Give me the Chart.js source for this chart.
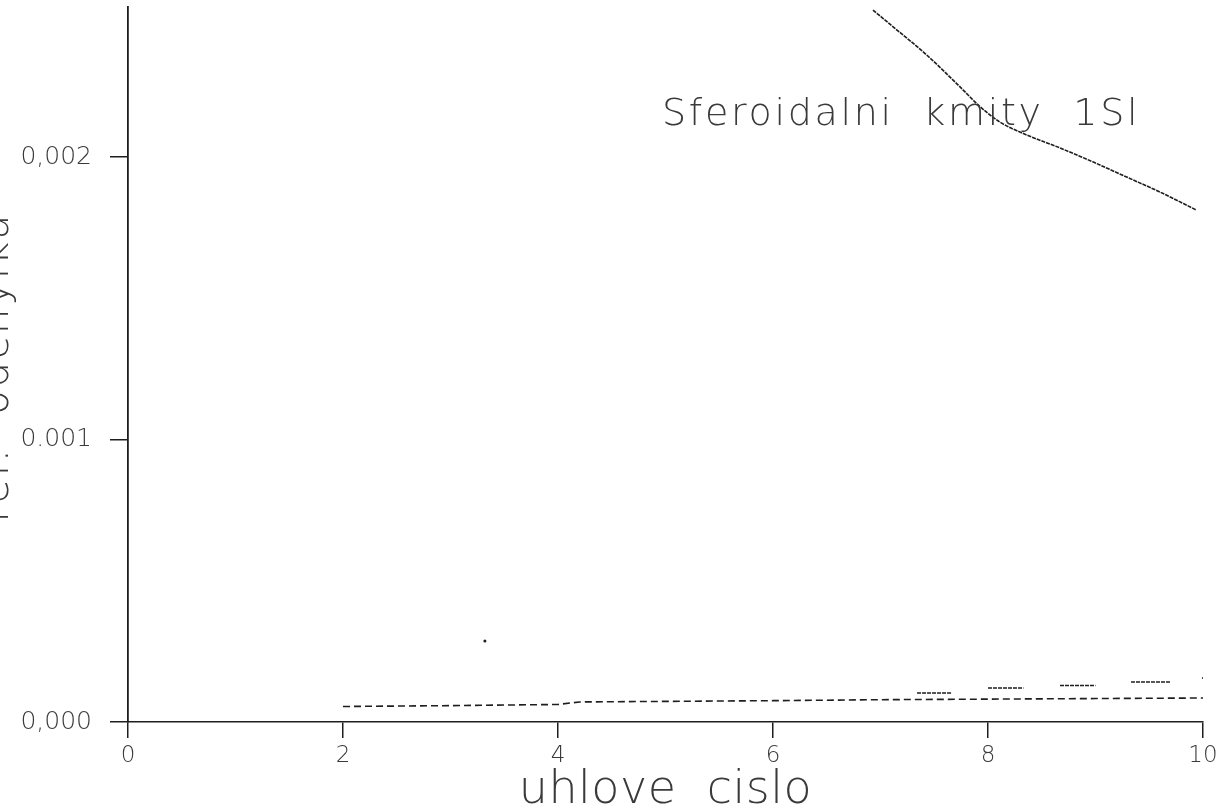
<!DOCTYPE html>
<html>
<head>
<meta charset="utf-8">
<title>Sferoidalni kmity 1Sl</title>
<script src="https://cdn.jsdelivr.net/npm/chart.js@4.4.1/dist/chart.umd.min.js"></script>
<style>
  html, body { margin: 0; padding: 0; background: #fff; }
  #wrap { width: 1227px; height: 811px; }
</style>
</head>
<body>
<div id="wrap"><canvas id="chart" width="1227" height="811"></canvas></div>
<script>
// axis ticks
const xTickValues = [0, 2, 4, 6, 8, 10];
const yTickValues = [0, 0.001, 0.002];
const yTickLabels = ['0,000', '0.001', '0,002'];

// texts
const plotTitle = 'Sferoidalni  kmity  1Sl';
const xTitle = 'uhlove  cislo';
const yTitle = 'rel.  odchylka';

// upper curve
const curveL   = [6.93, 7.12, 7.43, 7.74, 7.93, 8.11, 8.36, 8.67, 8.98, 9.29, 9.60, 9.94];
const curveVal = [0.002520, 0.002460, 0.002361, 0.002248, 0.002177, 0.002124,
                  0.002078, 0.002032, 0.001982, 0.001929, 0.001876, 0.001812];

// lower dashed line
const lowerL   = [2, 3, 4, 4.2, 5, 6, 7, 8, 9, 10];
const lowerVal = [0.0000549, 0.000058, 0.000062, 0.000071, 0.000073, 0.0000755, 0.000079, 0.000081, 0.000083, 0.000085];

// short level steps above the lower line
const stepFrom = [7.34, 8.0, 8.67, 9.33, 9.99];
const stepTo   = [7.66, 8.33, 9.0, 9.7, 10.02];
const stepVal  = [0.0001027, 0.0001204, 0.0001292, 0.0001416, 0.0001558];

// single stray point
const strayL   = [3.32];
const strayVal = [0.000287];

const toPoints = (xs, ys) => xs.map((x, i) => ({ x: x, y: ys[i] }));

// steps become separate pieces of one dataset, broken by nulls
const stepPoints = [];
stepFrom.forEach((x0, i) => {
  stepPoints.push({ x: x0, y: stepVal[i] });
  stepPoints.push({ x: stepTo[i], y: stepVal[i] });
  stepPoints.push({ x: stepTo[i] + 0.01, y: null });
});

const ink = '#1e1e1e';
const textInk = '#3a3a3a';

// free texts: title inside the plot and both axis titles
const textLayer = {
  id: 'textLayer',
  afterDraw(chart) {
    const ctx = chart.ctx;
    const area = chart.chartArea;
    ctx.save();
    ctx.fillStyle = textInk;
    ctx.textBaseline = 'alphabetic';

    ctx.font = '200 38px "DejaVu Sans"';
    ctx.textAlign = 'left';
    ctx.letterSpacing = '2.7px';
    ctx.fillText(plotTitle, 662, 125);

    ctx.font = '200 46px "DejaVu Sans"';
    ctx.textAlign = 'center';
    ctx.letterSpacing = '0.5px';
    ctx.fillText(xTitle, (area.left + area.right) / 2, 803);

    ctx.translate(8, 367);
    ctx.rotate(-Math.PI / 2);
    ctx.font = '200 40px "DejaVu Sans"';
    ctx.letterSpacing = '3px';
    ctx.fillText(yTitle, 0, 0);
    ctx.restore();
  }
};

new Chart(document.getElementById('chart'), {
  type: 'scatter',
  data: {
    datasets: [
      {
        data: toPoints(curveL, curveVal),
        showLine: true,
        borderColor: ink,
        borderWidth: 1.6,
        borderDash: [4, 1],
        pointRadius: 0,
        cubicInterpolationMode: 'monotone'
      },
      {
        data: toPoints(lowerL, lowerVal),
        showLine: true,
        borderColor: ink,
        borderWidth: 1.6,
        borderDash: [7, 4],
        pointRadius: 0
      },
      {
        data: stepPoints,
        showLine: true,
        spanGaps: false,
        borderColor: ink,
        borderWidth: 1.6,
        borderDash: [4, 1],
        pointRadius: 0
      },
      {
        data: toPoints(strayL, strayVal),
        showLine: false,
        pointRadius: 1.5,
        pointBackgroundColor: ink,
        pointBorderWidth: 0
      }
    ]
  },
  options: {
    responsive: false,
    devicePixelRatio: 1,
    animation: false,
    layout: { padding: { top: 7, right: 24, left: 0, bottom: 0 } },
    plugins: {
      legend: { display: false },
      tooltip: { enabled: false }
    },
    scales: {
      x: {
        type: 'linear',
        min: 0,
        max: 10,
        afterBuildTicks: scale => { scale.ticks = xTickValues.map(v => ({ value: v })); },
        afterFit: scale => {
          scale.height = 89;
          scale.paddingLeft = 0;
          scale.paddingRight = 0;
        },
        grid: { drawOnChartArea: false, drawTicks: true, tickLength: 16, color: ink, lineWidth: 1.5 },
        border: { display: true, color: ink, width: 1.5, dash: [6, 1] },
        ticks: {
          color: textInk,
          padding: 4,
          maxRotation: 0,
          font: { family: 'DejaVu Sans', size: 23, weight: 200 },
          callback: v => String(v)
        }
      },
      y: {
        type: 'linear',
        min: 0,
        max: 0.002531,
        afterBuildTicks: scale => { scale.ticks = yTickValues.map(v => ({ value: v })); },
        afterFit: scale => {
          scale.width = 128;
          scale.paddingTop = 0;
          scale.paddingBottom = 0;
        },
        grid: { drawOnChartArea: false, drawTicks: true, tickLength: 18, color: ink, lineWidth: 1.5 },
        border: { display: true, color: ink, width: 1.8 },
        ticks: {
          color: textInk,
          padding: 18,
          font: { family: 'DejaVu Sans', size: 25, weight: 200 },
          callback: v => yTickLabels[yTickValues.indexOf(v)]
        }
      }
    }
  },
  plugins: [textLayer]
});
</script>
</body>
</html>
